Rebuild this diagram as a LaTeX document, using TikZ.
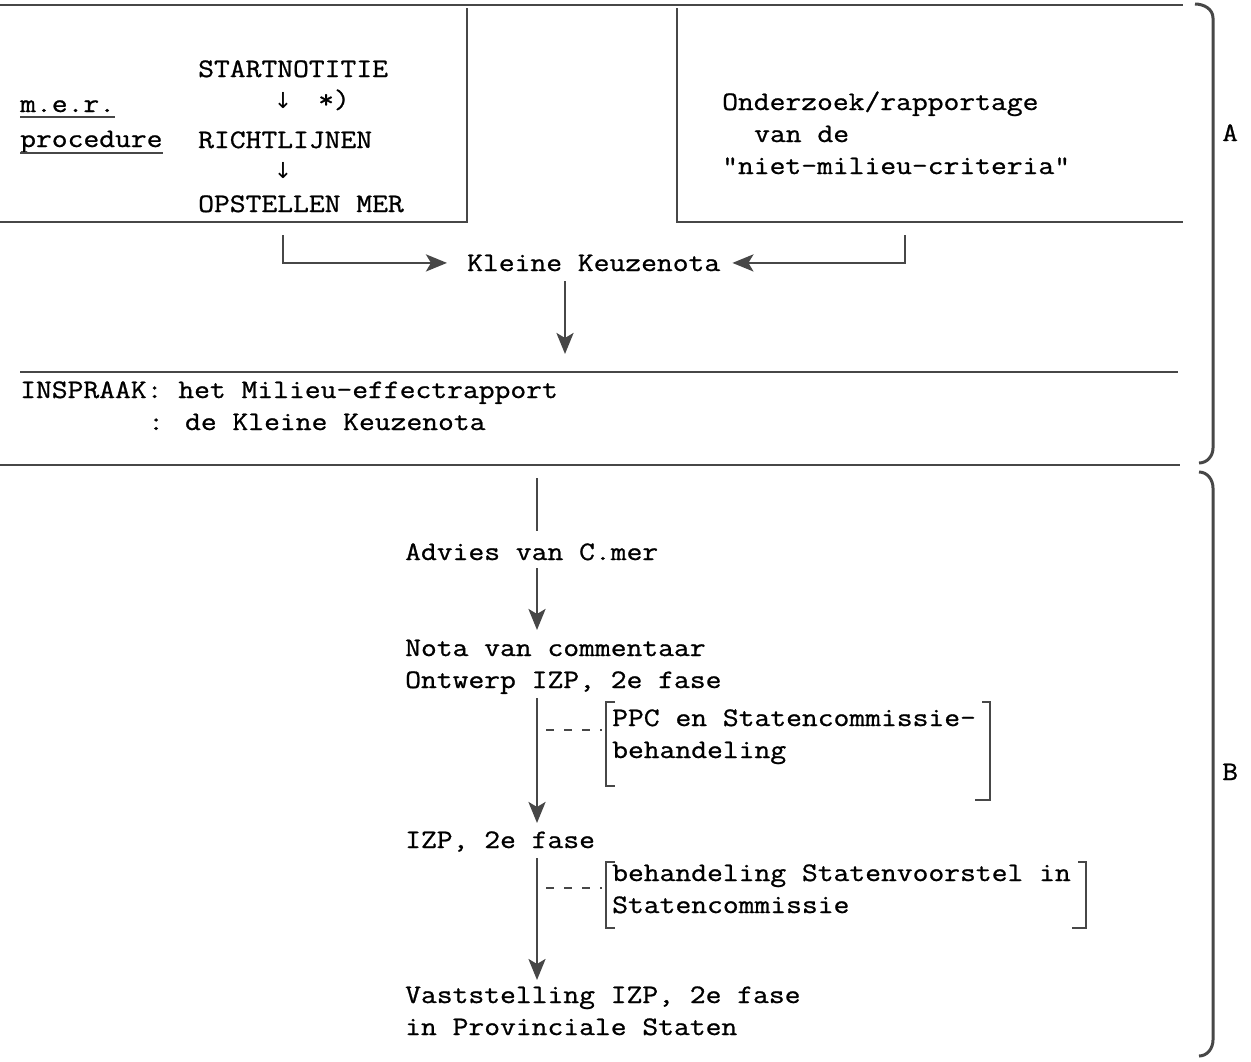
\documentclass[tikz,border=0pt]{standalone}
\usepackage{fontspec}
\newfontfamily\tw{Latin Modern Mono}[FakeStretch=1.15, FakeBold=0.9]
\newfontfamily\arrfont{DejaVu Sans}
\usetikzlibrary{arrows.meta}
\begin{document}
\begin{tikzpicture}[x=1pt,y=-1pt,
  ln/.style={line width=2.8pt, draw=black!72},
  arr/.style={ln, -{Stealth[length=21pt,width=17pt,inset=5pt]}},
  txt/.style={anchor=base west, inner sep=0pt, font=\tw\fontsize{26.7}{32}\selectfont},
  arrtxt/.style={anchor=base, inner sep=0pt, font=\arrfont\fontsize{22}{26}\selectfont},
  brk/.style={line width=2.2pt, draw=black!72},
  brace/.style={line width=3pt, draw=black!72},
  ul/.style={line width=1.6pt, draw=black!72},
  dotln/.style={line width=2.4pt, draw=black!72, dash pattern=on 8pt off 10pt}]
\useasboundingbox (0,0) rectangle (1251,1061);

% top boxes
\coordinate (tl) at (0,5);
\coordinate (tr) at (1183,5);
\draw[ln] (tl) -- (tr);
\coordinate (lb1) at (467,8);
\coordinate (lb2) at (467,222);
\coordinate (lb3) at (0,222);
\draw[ln] (lb1) -- (lb2) -- (lb3);
\coordinate (rb1) at (677,8);
\coordinate (rb2) at (677,222);
\coordinate (rb3) at (1183,222);
\draw[ln] (rb1) -- (rb2) -- (rb3);

% left box texts
\node[txt] (start) at (198,77) {STARTNOTITIE};
\node[arrtxt] (a1) at (283,108) {↓};
\node[txt] (star) at (318,108) {*)};
\node[txt] (richt) at (198,148) {RICHTLIJNEN};
\node[arrtxt] (a2) at (283,178) {↓};
\node[txt] (opst) at (198,212) {OPSTELLEN MER};
\node[txt] (mer) at (20,112) {m.e.r.};
\node[txt] (proc) at (20,147) {procedure};
\draw[ul] ([yshift=-5pt]mer.base west) -- ([yshift=-5pt]mer.base east);
\draw[ul] ([yshift=-6pt]proc.base west) -- ([yshift=-6pt]proc.base east);

% right box texts
\node[txt] (onder) at (722,110) {Onderzoek/rapportage};
\node[txt] (vande) at (754,142) {van de};
\node[txt] (niet) at (722,174) {"niet-milieu-criteria"};

% Kleine Keuzenota
\node[txt] (kk) at (467,271) {Kleine Keuzenota};
\coordinate (c1) at (283,235);
\coordinate (c2) at (905,235);
\draw[arr] (c1) |- ([xshift=-20pt]kk.west);
\draw[arr] (c2) |- ([xshift=12pt]kk.east);
\coordinate (d1a) at (565,281);
\coordinate (d1b) at (565,354);
\draw[arr] (d1a) -- (d1b);

% inspraak
\coordinate (h1a) at (20,372);
\coordinate (h1b) at (1178,372);
\draw[ln, line width=1.8pt] (h1a) -- (h1b);
\node[txt] (insp1) at (20,398) {INSPRAAK: het Milieu-effectrapport};
\node[txt] (insp2) at (148,430) {: de Kleine Keuzenota};
\coordinate (h2a) at (0,465);
\coordinate (h2b) at (1180,465);
\draw[ln, line width=1.8pt] (h2a) -- (h2b);

% lower chain
\coordinate (v0) at (537,478);
\node[txt] (adv) at (405,560) {Advies van C.mer};
\coordinate (v0b) at (537,531);
\draw[ln] (v0) -- (v0b);
\node[txt] (nota) at (405,656) {Nota van commentaar};
\node[txt] (ontw) at (405,688) {Ontwerp IZP, 2e fase};
\node[txt] (izp) at (405,848) {IZP, 2e fase};
\node[txt] (vast1) at (405,1003) {Vaststelling IZP, 2e fase};
\node[txt] (vast2) at (405,1035) {in Provinciale Staten};
\coordinate (v1a) at (537,568);
\coordinate (v1b) at (537,630);
\draw[arr] (v1a) -- (v1b);
\coordinate (v2a) at (537,698);
\coordinate (v2b) at (537,823);
\draw[arr] (v2a) -- (v2b);
\coordinate (v3a) at (537,858);
\coordinate (v3b) at (537,980);
\draw[arr] (v3a) -- (v3b);

% side notes
\node[txt] (ppc1) at (612,726) {PPC en Statencommissie-};
\node[txt] (ppc2) at (612,758) {behandeling};
\draw[brk] (615,702) -- (606,702) -- (606,786) -- (615,786);
\draw[brk] (982,702) -- (990,702) -- (990,800) -- (975,800);
\coordinate (p1a) at (546,730);
\coordinate (p1b) at (602,730);
\draw[dotln] (p1a) -- (p1b);

\node[txt] (beh1) at (612,881) {behandeling Statenvoorstel in};
\node[txt] (beh2) at (612,913) {Statencommissie};
\draw[brk] (615,862) -- (606,862) -- (606,928) -- (615,928);
\draw[brk] (1078,862) -- (1086,862) -- (1086,928) -- (1072,928);
\coordinate (p2a) at (546,888);
\coordinate (p2b) at (602,888);
\draw[dotln] (p2a) -- (p2b);

% braces
\draw[brace] (1195,4) to[out=0,in=90] (1213,18) -- (1213,448) to[out=270,in=0] (1199,463);
\draw[brace] (1199,472) to[out=0,in=90] (1213,488) -- (1213,1040) to[out=270,in=0] (1199,1056);
\node[txt] (lA) at (1222,141) {A};
\node[txt] (lB) at (1222,780) {B};
\end{tikzpicture}
\end{document}
